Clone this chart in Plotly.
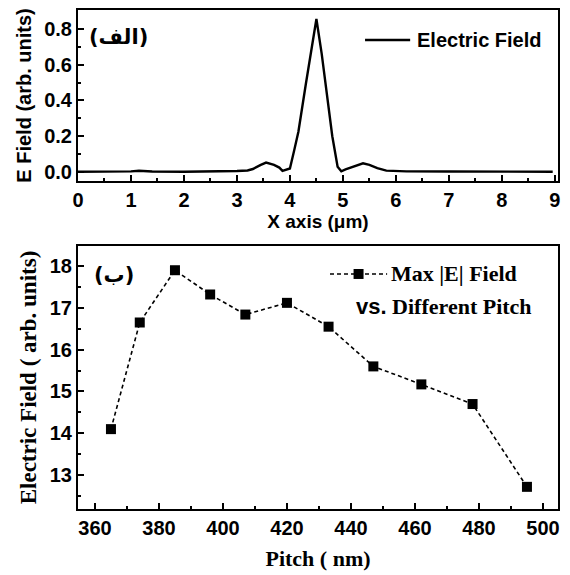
import plotly.graph_objects as go

# ---- Panel (a): electric field profile ----
x_um = [0, 0.5, 1.0, 1.15, 1.4, 2.0, 2.5, 2.8, 3.0, 3.2, 3.3, 3.45, 3.55, 3.7, 3.8, 3.86,
        3.92, 4.0, 4.08, 4.16, 4.3, 4.4, 4.5, 4.6, 4.7, 4.8, 4.9, 4.97, 5.05, 5.2, 5.38,
        5.5, 5.65, 5.82, 6.2, 7.0, 7.5, 7.83, 8.2, 8.96]
e_field = [0.002, 0.002, 0.004, 0.007, 0.003, 0.002, 0.002, 0.004, 0.006, 0.009, 0.017,
           0.04, 0.053, 0.04, 0.025, 0.007, 0.012, 0.02, 0.12, 0.225, 0.49, 0.67, 0.855,
           0.66, 0.43, 0.2, 0.03, 0.004, 0.015, 0.032, 0.049, 0.04, 0.022, 0.008, 0.004,
           0.003, 0.003, 0.006, 0.003, 0.002]

# ---- Panel (b): max |E| vs pitch ----
pitch_nm = [365, 374, 385, 396, 407, 420, 433, 447, 462, 478, 495]
max_field = [14.1, 16.65, 17.9, 17.32, 16.84, 17.12, 16.55, 15.6, 15.17, 14.7, 12.72]

SANS = "Liberation Sans, Arial, sans-serif"
SERIF = "Liberation Serif, Times New Roman, serif"

fig = go.Figure()
fig.add_trace(go.Scatter(x=x_um, y=e_field, mode="lines",
                         line=dict(color="black", width=2.4),
                         xaxis="x", yaxis="y", showlegend=False))
fig.add_trace(go.Scatter(x=pitch_nm, y=max_field, mode="lines+markers",
                         line=dict(color="black", width=1.6, dash="4px,3px"),
                         marker=dict(symbol="square", size=10, color="black"),
                         xaxis="x2", yaxis="y2", showlegend=False))

axis_common = dict(showline=True, linecolor="black", linewidth=2, mirror=True,
                   ticks="inside", ticklen=6, tickwidth=2, tickcolor="black",
                   showgrid=False, zeroline=False, automargin=False,
                   tickfont=dict(family=SANS, size=20, color="black", weight="bold"))

fig.update_layout(
    width=570, height=575,
    margin=dict(l=78, r=12, t=10, b=66),
    plot_bgcolor="white", paper_bgcolor="white",
    xaxis=dict(domain=[0, 1], anchor="y", range=[0, 9.06], dtick=1, tick0=0,
               minor=dict(dtick=0.5, ticks="inside", ticklen=3, tickwidth=2, tickcolor="black"),
               title=dict(text="X axis (μm)", standoff=4,
                          font=dict(family=SANS, size=19, color="black", weight="bold")),
               **axis_common),
    yaxis=dict(domain=[0.6573, 1], anchor="x", range=[-0.05, 0.905], dtick=0.2, tick0=0,
               tickformat=".1f",
               minor=dict(dtick=0.1, ticks="inside", ticklen=3, tickwidth=2, tickcolor="black"),
               title=dict(text="E Field (arb. units)", standoff=7,
                          font=dict(family=SANS, size=20, color="black", weight="bold")),
               **axis_common),
    xaxis2=dict(domain=[0, 1], anchor="y2", range=[354.7, 504.7], dtick=20, tick0=360,
                minor=dict(dtick=10, ticks="inside", ticklen=3, tickwidth=2, tickcolor="black"),
                title=dict(text="Pitch ( nm)", standoff=13,
                           font=dict(family=SERIF, size=22, color="black", weight="bold")),
                **axis_common),
    yaxis2=dict(domain=[0, 0.5271], anchor="x2", range=[12.19, 18.48], dtick=1, tick0=13,
                minor=dict(dtick=0.5, ticks="inside", ticklen=3, tickwidth=2, tickcolor="black"),
                title=dict(text="Electric Field ( arb. units)", standoff=7,
                           font=dict(family=SERIF, size=23, color="black", weight="bold")),
                **axis_common),
)

# legend-like samples (decorations)
fig.add_shape(type="line", xref="paper", yref="paper", x0=0.598, x1=0.692, y0=0.94, y1=0.94,
              line=dict(color="black", width=2.4))
fig.add_annotation(xref="paper", yref="paper", x=0.702, y=0.94, xanchor="left", yanchor="middle",
                   text="Electric Field", showarrow=False,
                   font=dict(family=SANS, size=20, color="black", weight="bold"))

fig.add_shape(type="line", xref="paper", yref="paper", x0=0.525, x1=0.644, y0=0.471, y1=0.471,
              line=dict(color="black", width=1.6, dash="4px,3px"))
fig.add_shape(type="rect", xref="paper", yref="paper", x0=0.5845 - 0.0104, x1=0.5845 + 0.0104,
              y0=0.471 - 0.01, y1=0.471 + 0.01, fillcolor="black", line=dict(width=0))
fig.add_annotation(xref="paper", yref="paper", x=0.648, y=0.471, xanchor="left", yanchor="middle",
                   text="Max |E| Field", showarrow=False,
                   font=dict(family=SERIF, size=22, color="black", weight="bold"))
fig.add_annotation(xref="paper", yref="paper", x=0.7635, y=0.405, xanchor="center", yanchor="middle",
                   text="<span style='font-family:Liberation Sans'>vs.</span> Different Pitch",
                   showarrow=False,
                   font=dict(family=SERIF, size=22, color="black", weight="bold"))

# panel labels
fig.add_annotation(xref="paper", yref="paper", x=0.085, y=0.946, xanchor="center", yanchor="middle",
                   text="(الف)", showarrow=False,
                   font=dict(family="DejaVu Sans", size=21, color="black", weight="bold"))
fig.add_annotation(xref="paper", yref="paper", x=0.076, y=0.469, xanchor="center", yanchor="middle",
                   text="(ب)", showarrow=False,
                   font=dict(family="DejaVu Sans", size=21, color="black", weight="bold"))

fig.write_html("out.html", config={"displayModeBar": False},
               post_script="document.body.style.margin='0px';")
